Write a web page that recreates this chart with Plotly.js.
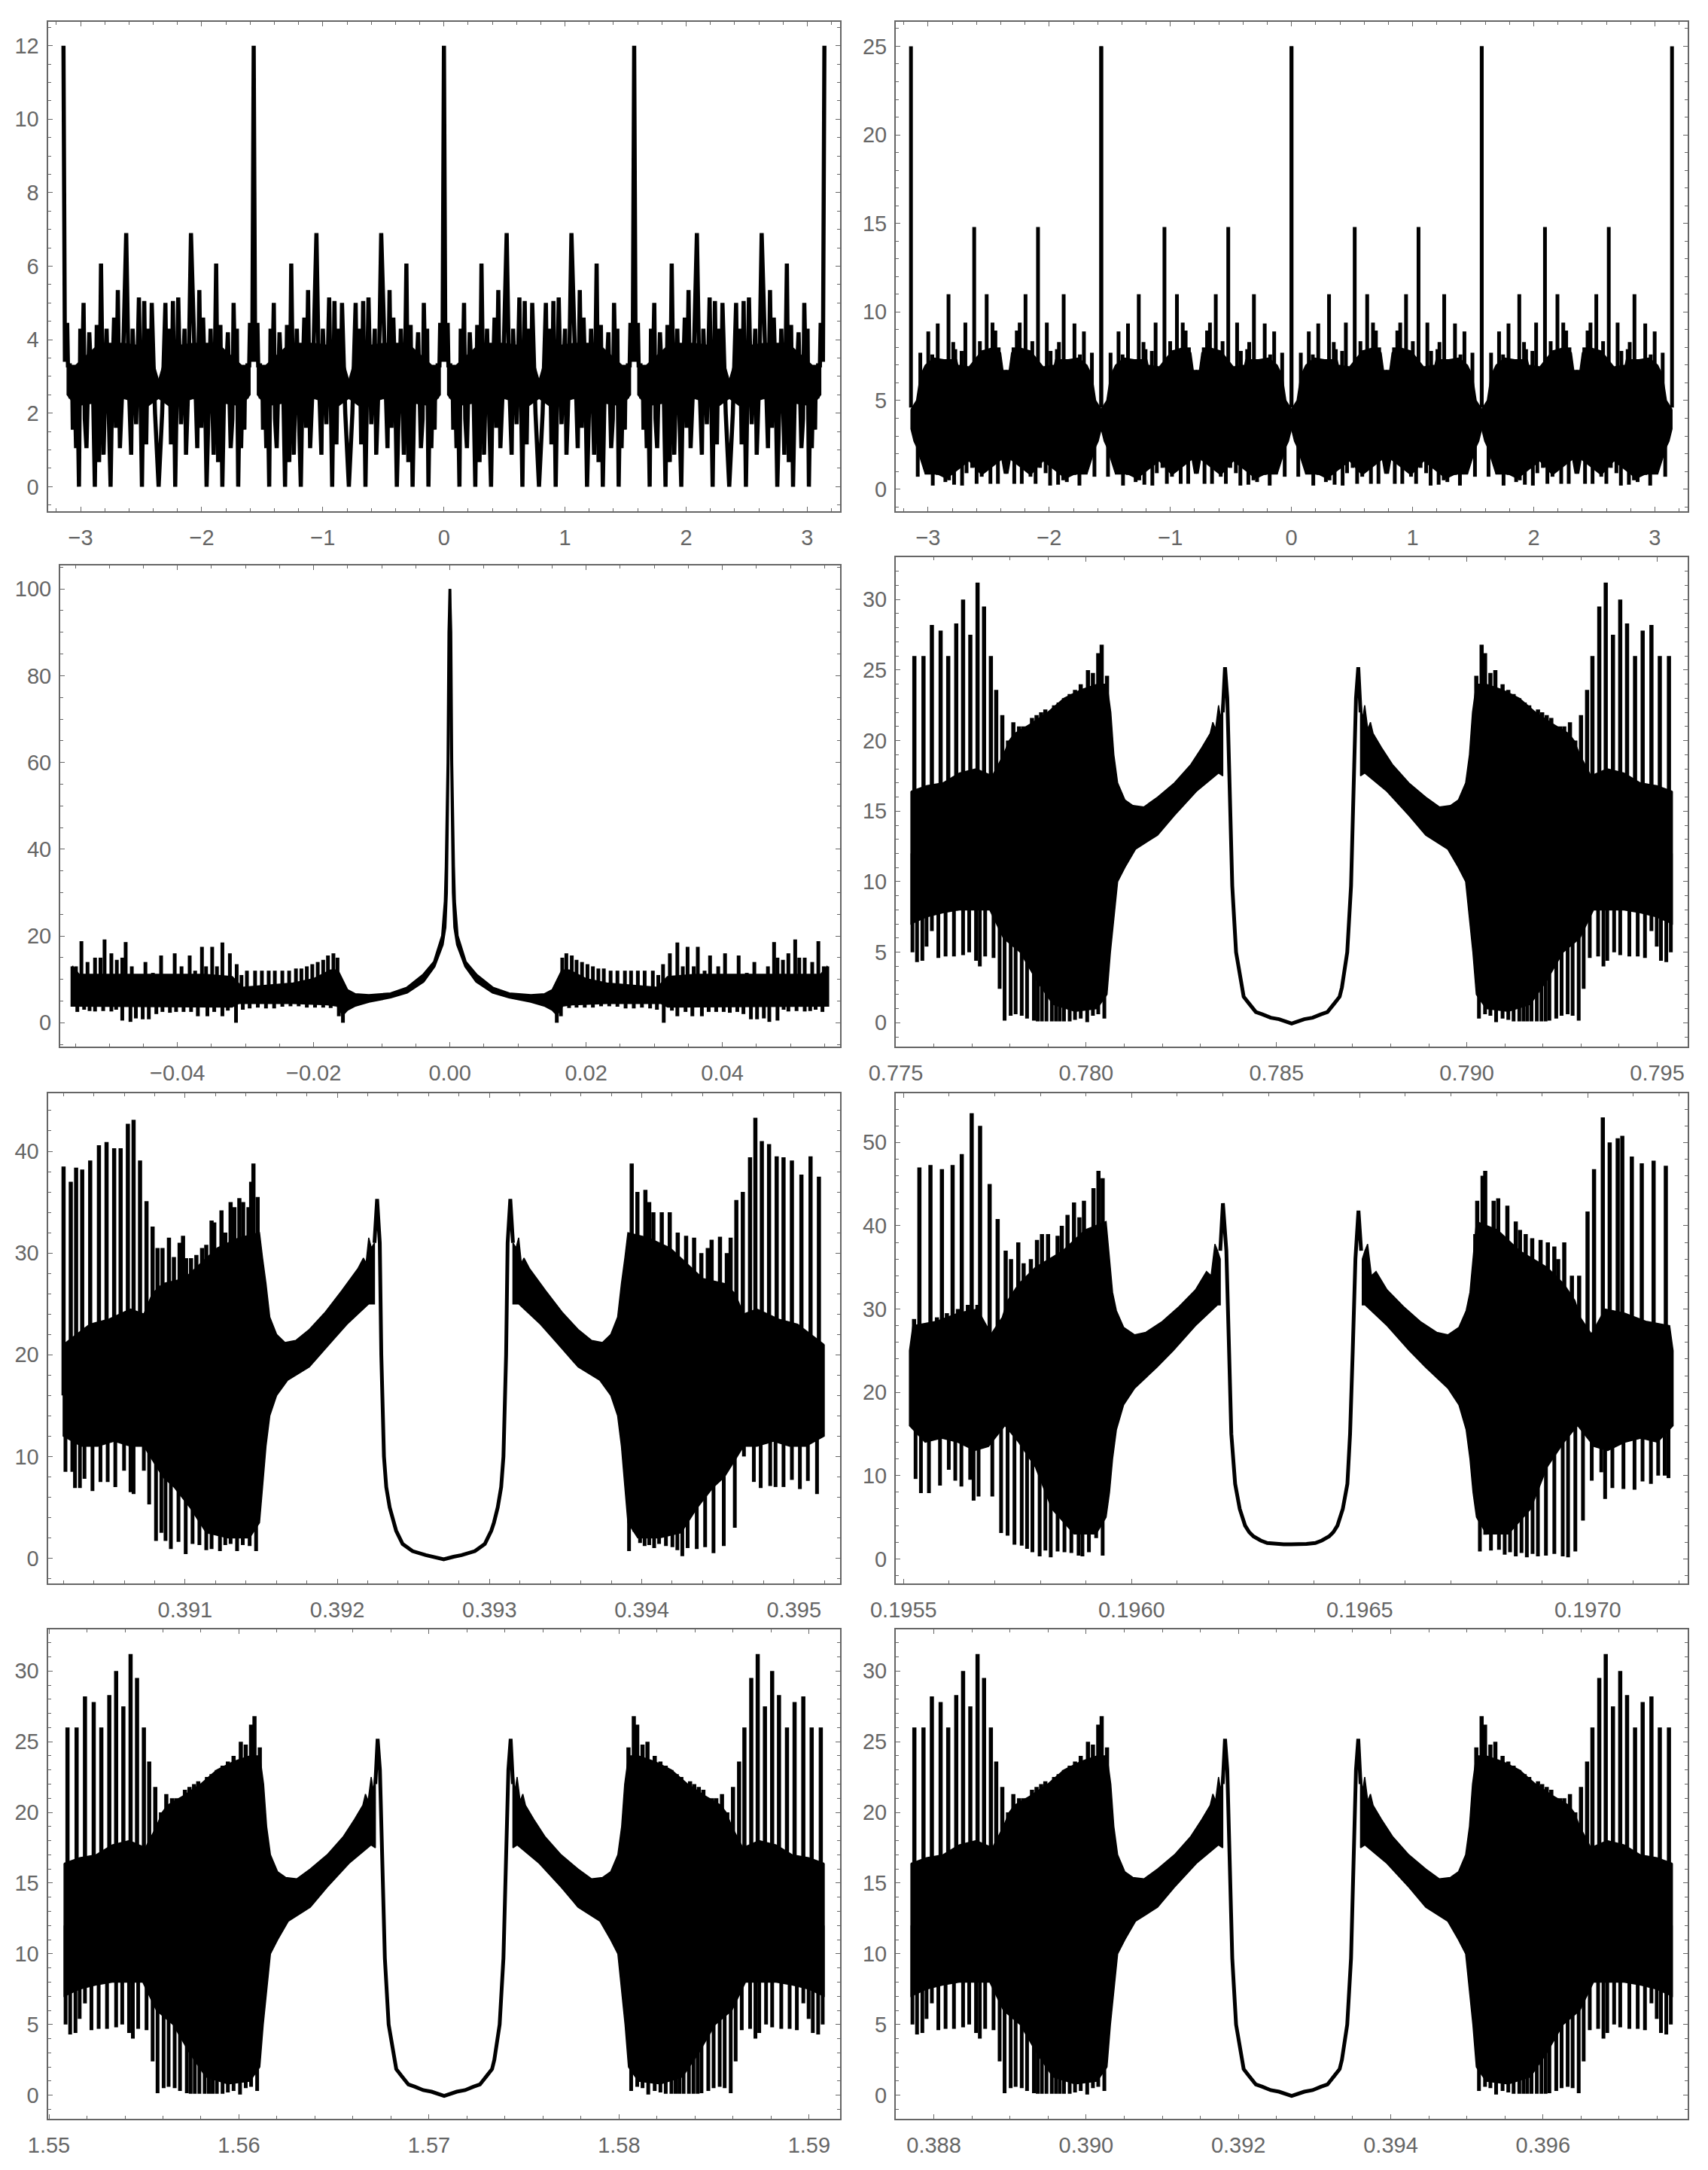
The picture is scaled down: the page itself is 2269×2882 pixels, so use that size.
<!DOCTYPE html>
<html><head><meta charset="utf-8">
<script src="https://cdn.plot.ly/plotly-3.0.1.min.js"></script>
<style>html,body{margin:0;padding:0;background:#fff}</style></head>
<body><div id="chart" style="width:2269px;height:2882px"></div>
<script>
// ---- Panel 1: one quarter period (x in radians)
const p1X=[0,.012,.02,.031,.037,.052,.058,.072,.077,.093,.104,.114,.128,.139,.151,.166,.176,.19,.213,.226,.238,.259,.275,.294,.31,.331,.356,.373,.389,.404,.418,.433,.449,.466,.486,.518,.538,.559,.571,.6,.623,.636,.648,.667,.683,.698,.718,.729,.756,.785];
const p1Y=[12,3.4,4.4,4.4,3.3,3.3,2.4,2.85,1.55,2.7,1.05,3,0,4.3,2.5,5,1.85,1.05,4.2,3.2,3.7,0,4.4,.67,6.07,.87,4.3,2,0,3,4.6,1.6,5.35,1.05,2.7,6.9,3,.87,4.3,1.7,5.15,2.5,0,5.05,1.15,4.3,2.3,5,2,0];
const p1EdgeTopX=[.03,.1,.3,.5,.7,.75,.785];
const p1EdgeTopY=[3.3,3.3,3.9,3.9,3.8,3.3,2.9];
const p1EdgeBotX=[.03,.1,.3,.5,.7,.785];
const p1EdgeBotY=[2.5,2.2,2.3,2.4,2.2,2.4];
// ---- Panel 2: one quarter period
const p2TopX=[0,.077,.143,.176,.221,.31,.349,.366,.418,.449,.522,.569,.625,.673,.697,.724];
const p2TopY=[25,7.7,8.9,7.6,9.35,11,8.3,7.9,7.8,9.4,14.8,8.35,11,9.4,8.95,8];
const p2BotX=[.056,.128,.18,.221,.284,.314,.356,.422,.459,.505,.542,.584,.656,.718,.76,.785];
const p2BotY=[.7,.85,.2,.8,.4,.5,.25,.2,.9,1.2,.3,.7,.3,.3,1.7,.9];
const p2EdgeTopX=[0,.046,.077,.118,.19,.273,.377,.387,.48,.584,.687,.74,.76,.785];
const p2EdgeTopY=[4.5,5,6.4,7,7.4,7.3,7.3,7,6.9,7.8,8,7.7,6.7,6.7];
const p2EdgeBotX=[0,.025,.046,.118,.221,.294,.48,.584,.75,.77,.785];
const p2EdgeBotY=[3.4,2.7,2.4,.85,.85,.6,1.6,.8,1.7,.9,.9];
// ---- Panel 3: left half, mirrored about 0
const p3TopX=[-.0549,-.0541,-.0532,-.0521,-.0513,-.0507,-.0497,-.0489,-.0481,-.0476,-.0467,-.0457,-.0447,-.0436,-.0424,-.0414,-.0404,-.0394,-.0382,-.0374,-.0364,-.0358,-.0349,-.0342,-.0334,-.0323,-.0313,-.0306,-.0298,-.0286,-.0276,-.0266,-.0257,-.0246,-.0236,-.0226,-.0218,-.021,-.0202,-.0194,-.0186,-.0179,-.0171,-.0165];
const p3TopY=[13,18.8,14,15,15,19.2,16,14.5,15,18.6,13,11,14,11.5,15.5,11,16,13,15.5,12,17.5,13,17.5,13,18.5,16,13.5,11,12,12,12,12,12,12,12,12.5,12.5,13,13.5,14,14.5,15.5,16,15];
const p3BotX=[-.0547,-.0537,-.0529,-.0521,-.0509,-.0497,-.049,-.0481,-.0469,-.0461,-.0451,-.0442,-.0431,-.0422,-.0411,-.0402,-.0391,-.038,-.037,-.0356,-.0346,-.0334,-.0326,-.0314,-.0304,-.0294,-.0282,-.027,-.0258,-.0246,-.0234,-.0222,-.021,-.0198,-.0186,-.0175,-.0163,-.0157];
const p3BotY=[2.5,3,2.7,2.6,2.7,2.6,3,.5,.2,1,.8,.8,2,2.5,2.3,2.5,2.5,2.5,1.5,1.5,2.5,1.5,2.8,0,3,3.3,3.5,3.3,3.3,3.7,3.8,3.8,3.5,3.5,3.5,3.4,1.5,0];
const p3EdgeTopX=[-.0555,-.0545,-.036,-.032,-.0305,-.027,-.023,-.02,-.0175,-.0165,-.0159,-.0151,-.0139,-.0119,-.0087,-.0063,-.0039,-.0023,-.0011,-.0007,-.00056,-.0003,-.00016,0];
const p3EdgeTopY=[13,11,11,10.5,8,8.5,9,10,12,12,10,7.5,6.5,6.3,6.7,8,11,14,20,28,36,60,90,100];
const p3EdgeBotX=[-.0555,-.032,-.031,-.023,-.018,-.0165,-.0157,-.0151,-.0139,-.0119,-.0087,-.0063,-.0039,-.0023,-.0011,-.0007,-.00048,-.00024,0];
const p3EdgeBotY=[4,3.8,4.6,4.6,4.3,4,2,3,4,4.9,5.9,7,9.5,13,18,22,30,60,95];
// ---- Panels 4, 7, 8 share one shape. u = offset from the centre / half width
const aTopU=[-.991,-.967,-.945,-.922,-.902,-.881,-.863,-.844,-.825,-.808,-.79,-.776,-.76,-.745,-.731,-.716,-.705,-.693,-.682,-.67,-.658,-.647,-.635,-.624,-.612,-.598,-.583,-.569,-.554,-.535,-.522,-.508,-.499,-.485];
const aTopY=[26,26,28.2,27.8,26,28.3,30,27.5,31.2,29.5,26,23.6,21.8,20,21.3,21,21,20.4,21.6,21.8,22,22.2,22,22.5,22.7,23,23.3,23.6,24,25,24.8,26.2,26.8,24.6];
const aBotU=[-.996,-.984,-.97,-.959,-.945,-.928,-.909,-.887,-.863,-.847,-.829,-.819,-.805,-.783,-.767,-.754,-.738,-.725,-.709,-.695,-.677,-.667,-.656,-.644,-.63,-.619,-.609,-.598,-.583,-.569,-.554,-.537,-.522,-.508,-.492];
const aBotY=[5,4.3,4.4,5.4,6.5,4.6,4.7,4.7,4.8,5,4.4,4,4.7,4.6,2.4,.15,.5,.6,.5,.3,.15,.1,.1,.1,.1,.1,.1,.1,.1,.2,.3,.05,.5,.6,.3];
const aEdgeTopU=[-1,-.959,-.916,-.873,-.829,-.786,-.757,-.742,-.728,-.685,-.641,-.598,-.554,-.511,-.485,-.475,-.467,-.457,-.438,-.417,-.388,-.352,-.308,-.265,-.236,-.214,-.207,-.2,-.192,-.186,-.181];
const aEdgeTopY=[16.4,16.8,17,17.7,18,17.5,19,20,20.5,21.2,22,23,23.6,24,24,22,19,17,15.8,15.4,15.3,16,17,18.3,19.5,20.5,21.3,20.8,22.5,21.5,23];
const aEdgeBotU=[-1,-.959,-.916,-.873,-.829,-.793,-.757,-.713,-.67,-.627,-.569,-.511,-.485,-.476,-.467,-.457,-.438,-.41,-.352,-.308,-.25,-.192,-.181];
const aEdgeBotY=[7,7.5,7.8,8,8,8,6,5,3,1.3,.8,1,2,5,7.5,10,11,12.3,13.3,14.7,16.4,17.7,17.5];
const aCurveU=[-.181,-.175,-.169,-.165,-.156,-.146,-.132,-.126,-.113,-.094,-.077,-.055,-.033,0];
const aCurveY=[22,25.2,23,19,9.7,5,2.5,1.85,1.4,.76,.6,.36,.25,-.05];
// ---- Panel 5
const p5TopU=[-.999,-.98,-.966,-.95,-.929,-.906,-.886,-.866,-.849,-.83,-.815,-.798,-.781,-.765,-.752,-.739,-.722,-.709,-.694,-.685,-.677,-.664,-.65,-.635,-.624,-.61,-.603,-.584,-.574,-.56,-.55,-.537,-.527,-.513,-.506,-.5,-.489,.494,.509,.53,.54,.551,.573,.594,.615,.637,.658,.677,.694,.704,.726,.744,.754,.769,.786,.805,.819,.836,.855,.875,.893,.915,.94,.964,.986];
const p5TopY=[38.5,37,38.4,38.2,39.1,40.6,40.9,40.3,40.3,42.7,43.1,39.1,35.1,32.6,30.5,30.5,31.5,29.6,31,31.7,29.5,29.5,29.8,30.5,30.8,33.2,33,34.2,32,35,34.5,35.4,35,34.5,37,38.8,35.5,38.8,36,36.2,35,34,34,34,32,31.7,31.5,30,30.5,31.3,31.6,30,31.5,35.2,36,39.4,43.3,41,40.7,39.5,39.4,39.1,37.7,39.5,37.5];
const p5BotU=[-.994,-.976,-.969,-.956,-.944,-.923,-.902,-.883,-.863,-.84,-.823,-.815,-.788,-.774,-.756,-.742,-.731,-.717,-.697,-.678,-.66,-.642,-.624,-.61,-.588,-.574,-.56,-.543,-.528,-.51,-.493,.487,.501,.516,.528,.54,.553,.566,.584,.601,.614,.627,.641,.665,.687,.709,.736,.765,.789,.815,.833,.858,.872,.893,.915,.936,.957,.981];
const p5BotY=[8.5,8.5,6.9,6.9,7.8,6.6,7.5,7.5,7,8.6,6.5,6.3,8.6,5.3,1.7,2.5,1.7,.9,1.6,.4,1.4,1.3,.8,.9,.7,1.3,1.4,.7,1.3,1.2,.7,.7,2.6,1.5,1.2,1.3,1,1.4,1.2,1.1,.8,.2,1,.9,1.1,.5,1.2,3,10,7.5,6.9,7.1,7,7,7.7,6.8,7.6,6.3];
const p5EdgeTopU=[-1,-.966,-.93,-.88,-.823,-.788,-.766,-.738,-.681,-.638,-.595,-.538,-.484,-.476,-.467,-.457,-.439,-.417,-.389,-.353,-.311,-.268,-.225,-.211,-.204,-.197,-.19,-.182];
const p5EdgeTopY=[21,22,23,23.5,24.5,24,26,27,27.5,29,30.5,31.5,32,29.5,27,23.7,22,21.2,21.4,22.5,24.2,26.3,28.5,29.5,29,31.5,30.5,31];
const p5EdgeBotU=[-1,-.952,-.909,-.866,-.823,-.788,-.738,-.709,-.667,-.624,-.567,-.51,-.484,-.476,-.467,-.457,-.439,-.41,-.353,-.311,-.254,-.197,-.182];
const p5EdgeBotY=[12,11,11,11.5,11,11,8,7,5,2.5,2,2,3.5,7,11,14,16,17.5,18.8,20.6,23,25,25];
const p5CurveU=[-.182,-.175,-.168,-.164,-.157,-.151,-.142,-.132,-.125,-.108,-.082,-.047,-.026,0];
const p5CurveY=[31,35.3,31,20,10,7,5,3.5,2.7,1.4,.7,.3,.15,-.1];
// ---- Panel 6
const p6TopU=[-.988,-.974,-.96,-.945,-.928,-.915,-.902,-.887,-.873,-.863,-.847,-.837,-.822,-.815,-.79,-.769,-.748,-.734,-.715,-.701,-.682,-.666,-.653,-.637,-.612,-.601,-.586,-.569,-.555,-.543,-.518,-.505,-.494,.482,.487,.501,.508,.53,.542,.566,.588,.599,.614,.631,.653,.672,.689,.699,.715,.735,.754,.776,.793,.816,.834,.855,.867,.892,.918,.949,.981];
const p6TopY=[28.8,47,28,47.3,29,46.8,29.5,47.3,30,48.6,30.5,53.5,30.5,52,45,40.8,37,36,38,35.5,36,38.3,39,39,38.8,40,41.3,42.8,41,43,44.5,46.6,45.7,39,43,46,46.6,43,43.3,42.4,40.5,39.5,39,38.5,38.3,38,37.5,36,38,34,34,41.7,46.8,53,50,50.5,50.8,48.3,47.5,47.8,47.2];
const p6BotU=[-.984,-.97,-.949,-.92,-.897,-.88,-.864,-.841,-.832,-.819,-.783,-.76,-.743,-.725,-.706,-.692,-.678,-.659,-.644,-.63,-.612,-.594,-.576,-.557,-.547,-.53,-.511,-.494,.494,.508,.523,.544,.559,.573,.588,.603,.617,.632,.646,.667,.689,.711,.725,.744,.764,.787,.812,.822,.841,.87,.899,.92,.942,.961,.978,.988];
const p6BotY=[9.6,7.9,7.9,8.8,10.7,9.4,8.7,9.5,7,7.5,7.5,3.1,2.8,1.7,1.6,1.2,.8,.3,1,.2,.9,.8,.7,.4,.3,.8,2.5,.4,.9,2.9,1,1.1,.5,.8,.3,.7,.2,.6,.3,.4,.6,.3,.2,.9,4.6,9.4,10.4,7.2,8.5,8.4,8.3,9.3,9,10,10,9.7];
const p6EdgeTopU=[-1,-.991,-.931,-.873,-.822,-.786,-.757,-.743,-.714,-.67,-.598,-.54,-.485,-.476,-.468,-.458,-.439,-.41,-.381,-.338,-.294,-.251,-.222,-.21,-.2,-.193,-.186];
const p6EdgeTopY=[25,28,28.5,29.5,30,27,29,31,33,35,37,39.5,40.5,36,32,29.8,27.8,26.9,27.2,28.5,30.3,32.3,34.5,34,37.8,37,36];
const p6EdgeBotU=[-1,-.959,-.916,-.873,-.829,-.793,-.75,-.714,-.67,-.627,-.569,-.511,-.485,-.476,-.468,-.458,-.439,-.41,-.352,-.309,-.251,-.193,-.186];
const p6EdgeBotY=[16,14,14.5,14,13,13.5,16,14,11,6,3,3,5,8,12,15.5,18.5,20.5,23,25,28,30.5,30.5];
const p6CurveU=[-.186,-.179,-.17,-.164,-.157,-.147,-.135,-.121,-.11,-.099,-.08,-.063,-.04,-.02,0,.02,.04,.063,.08,.099,.11,.121,.135,.147,.154,.161,.168,.176,.183];
const p6CurveY=[37,42.7,37,25,15,9,6,4,3.2,2.7,2.2,1.9,1.8,1.75,1.75,1.75,1.8,1.9,2.2,2.7,3.2,4,6,9,15,25,36,41.8,37];

const QUARTER=Math.PI/4;
const black='#000';
function gapJoin(list){const o=[];list.forEach((a,i)=>{if(i)o.push(null);o.push(...a)});return o}
function line(x,y,w,ax){return{x,y,mode:'lines',type:'scatter',line:{color:black,width:w},hoverinfo:'skip',xaxis:'x'+ax,yaxis:'y'+ax,showlegend:false}}
function poly(x,y,ax,w){return{x,y,mode:'lines',type:'scatter',fill:'toself',fillcolor:black,line:{color:black,width:w||1.5},hoverinfo:'skip',xaxis:'x'+ax,yaxis:'y'+ax,showlegend:false}}
function spikes(xs,ys,base,w,ax){const X=[],Y=[];xs.forEach((v,i)=>{X.push(v,v,null);Y.push(base,ys[i],null)});return line(X,Y,w,ax)}
function ring(tx,ty,bx,by){return{x:[...tx,...bx.slice().reverse(),tx[0]],y:[...ty,...by.slice().reverse(),ty[0]]}}
// the whole-period panels repeat one quarter by reflection
const images=[v=>v,v=>2*QUARTER-v,v=>2*QUARTER+v,v=>4*QUARTER-v,v=>-v,v=>v-2*QUARTER,v=>-2*QUARTER-v,v=>v-4*QUARTER];
function p1Traces(){
  const hx=[...p1X,...p1X.slice().reverse().slice(1).map(v=>2*QUARTER-v)];
  const hy=[...p1Y,...p1Y.slice().reverse().slice(1)];
  const px=[...hx,...hx.slice(1).map(v=>v+2*QUARTER)],py=[...hy,...hy.slice(1)];
  const r=ring(p1EdgeTopX,p1EdgeTopY,p1EdgeBotX,p1EdgeBotY);
  return[poly(gapJoin(images.map(f=>r.x.map(f))),gapJoin(images.map(()=>r.y)),''),
    line([...px.slice().reverse().slice(0,-1).map(v=>-v),...px],[...py.slice().reverse().slice(0,-1),...py],5.5,'')];
}
function p2Traces(){
  const r=ring(p2EdgeTopX,p2EdgeTopY,p2EdgeBotX,p2EdgeBotY);
  const polyX=gapJoin(images.map(f=>r.x.map(f))),polyY=gapJoin(images.map(()=>r.y));
  const tx=[],ty=[],bx=[],by=[];
  images.forEach(f=>{p2TopX.forEach((v,i)=>{tx.push(f(v));ty.push(p2TopY[i])});p2BotX.forEach((v,i)=>{bx.push(f(v));by.push(p2BotY[i])})});
  return[poly(polyX,polyY,'2'),spikes(tx,ty,4.6,5,'2'),spikes(bx,by,4.6,5,'2')];
}
function p3Traces(){
  const r=ring(p3EdgeTopX,p3EdgeTopY,p3EdgeBotX,p3EdgeBotY);
  const all=[poly(gapJoin([r.x,r.x.map(v=>-v)]),gapJoin([r.y,r.y]),'3',3.5)];
  all.push(spikes([...p3TopX,...p3TopX.map(v=>-v)],[...p3TopY,...p3TopY],7,5,'3'));
  all.push(spikes([...p3BotX,...p3BotX.map(v=>-v)],[...p3BotY,...p3BotY],7,5,'3'));
  return all;
}
function wave(c,h,ax,s){
  const r=ring(s.etu,s.ety,s.ebu,s.eby);
  const L=r.x.map(u=>c+u*h),R=r.x.map(u=>c-u*h);
  const out=[poly(gapJoin([L,R]),gapJoin([r.y,r.y]),ax)];
  const tu=s.mirror?[...s.tu,...s.tu.map(v=>-v)]:s.tu,ty=s.mirror?[...s.ty,...s.ty]:s.ty;
  const bu=s.mirror?[...s.bu,...s.bu.map(v=>-v)]:s.bu,by=s.mirror?[...s.by,...s.by]:s.by;
  out.push(spikes(tu.map(u=>c+u*h),ty,s.base,5.5,ax));
  out.push(spikes(bu.map(u=>c+u*h),by,s.base,5,ax));
  const cu=s.cmirror?[...s.cu,...s.cu.slice().reverse().slice(1).map(v=>-v)]:s.cu;
  const cy=s.cmirror?[...s.cy,...s.cy.slice().reverse().slice(1)]:s.cy;
  out.push(line(cu.map(u=>c+u*h),cy,5,ax));
  return out;
}
const shapeA={etu:aEdgeTopU,ety:aEdgeTopY,ebu:aEdgeBotU,eby:aEdgeBotY,tu:aTopU,ty:aTopY,bu:aBotU,by:aBotY,cu:aCurveU,cy:aCurveY,base:12,mirror:true,cmirror:true};
const shape5={etu:p5EdgeTopU,ety:p5EdgeTopY,ebu:p5EdgeBotU,eby:p5EdgeBotY,tu:p5TopU,ty:p5TopY,bu:p5BotU,by:p5BotY,cu:p5CurveU,cy:p5CurveY,base:16,mirror:false,cmirror:true};
const shape6={etu:p6EdgeTopU,ety:p6EdgeTopY,ebu:p6EdgeBotU,eby:p6EdgeBotY,tu:p6TopU,ty:p6TopY,bu:p6BotU,by:p6BotY,cu:p6CurveU,cy:p6CurveY,base:21,mirror:false,cmirror:false};

const traces=[...p1Traces(),...p2Traces(),...p3Traces(),
  ...wave(.785398,.01,'4',shapeA),...wave(.392699,.0025,'5',shape5),...wave(.19635,.000837,'6',shape6),
  ...wave(1.570796,.02,'7',shapeA),...wave(.392699,.005,'8',shapeA)];

const W=2269,H=2882,grey='#666666';
const panels=[
 {l:63.5,r:1116,t:28.5,b:679,xr:[-3.271,3.271],yr:[-.669,12.66],dx:1,mx:.2,dy:2,my:.5,xf:''},
 {l:1190,r:2242,t:28.5,b:679,xr:[-3.267,3.271],yr:[-1.25,26.4],dx:1,mx:.2,dy:5,my:1,xf:''},
 {l:80,r:1116,t:750.5,b:1390,xr:[-.05721,.05729],yr:[-5.5,105.5],dx:.02,mx:.005,dy:20,my:5,xf:'.2f'},
 {l:1190,r:2242,t:740,b:1390,xr:[.775,.7958],yr:[-1.69,33],dx:.005,mx:.001,dy:5,my:1,xf:'.3f'},
 {l:63.5,r:1116,t:1452,b:2103,xr:[.390098,.395303],yr:[-2.48,45.7],dx:.001,mx:.0002,dy:10,my:2,xf:'.3f'},
 {l:1190,r:2242,t:1452,b:2103,xr:[.195483,.197219],yr:[-2.95,55.9],dx:.0005,mx:.0001,dy:10,my:2,xf:'.4f'},
 {l:63.5,r:1116,t:2164,b:2814,xr:[1.54994,1.59163],yr:[-1.665,32.94],dx:.01,mx:.002,dy:5,my:1,xf:'.2f'},
 {l:1190,r:2242,t:2164,b:2814,xr:[.3875,.3979],yr:[-1.665,32.94],dx:.002,mx:.0005,dy:5,my:1,xf:'.3f'}];
const layout={width:W,height:H,margin:{l:0,r:0,t:0,b:0},paper_bgcolor:'#fff',plot_bgcolor:'#fff',showlegend:false,
  font:{family:'"Liberation Sans",Arial,sans-serif',size:29,color:grey}};
panels.forEach((p,i)=>{
  const n=i?String(i+1):'';
  const common={showline:true,mirror:'allticks',linecolor:grey,linewidth:2,ticks:'inside',ticklen:6,tickwidth:1,tickcolor:grey,
    showgrid:false,zeroline:false,tickfont:{family:'"Liberation Sans",Arial,sans-serif',size:29,color:grey},fixedrange:true};
  layout['xaxis'+n]={...common,domain:[p.l/W,p.r/W],range:p.xr,tick0:0,dtick:p.dx,tickformat:p.xf,anchor:'y'+n,ticklabelstandoff:8,
    minor:{ticks:'inside',ticklen:4,tickwidth:1,tickcolor:grey,dtick:p.mx,tick0:0,showgrid:false}};
  layout['yaxis'+n]={...common,domain:[1-p.b/H,1-p.t/H],range:p.yr,tick0:0,dtick:p.dy,anchor:'x'+n,ticklabelstandoff:4,
    minor:{ticks:'inside',ticklen:4,tickwidth:1,tickcolor:grey,dtick:p.my,tick0:0,showgrid:false}};
});
Plotly.newPlot('chart',traces,layout,{staticPlot:true,displayModeBar:false});
</script></body></html>
